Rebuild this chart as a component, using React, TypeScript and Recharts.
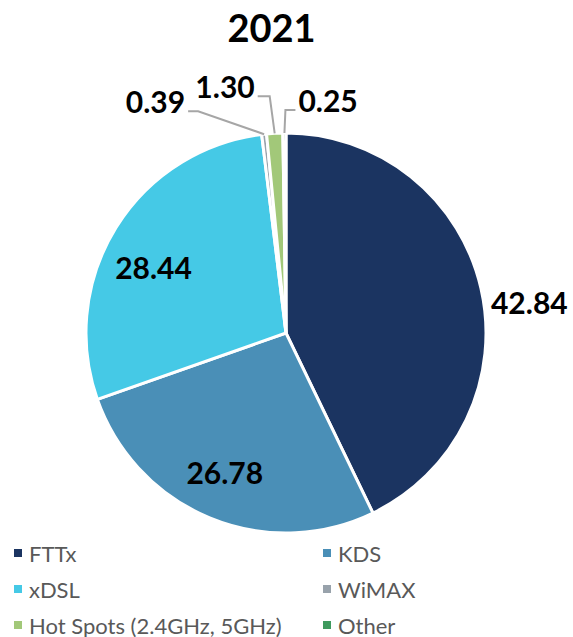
import { PieChart, Pie, Cell, Legend } from 'recharts';

const categories = ['FTTx', 'KDS', 'xDSL', 'WiMAX', 'Hot Spots (2.4GHz, 5GHz)', 'Other'];
const shares = [42.84, 26.78, 28.44, 0.39, 1.3, 0.25];
const colors = ['#1b3461', '#4a8fb7', '#45c9e6', '#98a2ab', '#a2c879', '#3f9a5e'];

const data = categories.map((name, i) => ({ name, value: shares[i] }));

const RAD = Math.PI / 180;
const labelFont = { fontFamily: 'Lato, sans-serif', fontWeight: 700, fontSize: 30, fill: '#000' };

// leader lines for the thin slices at the top: [elbow dx, rise above rim, tail dx]
const leaders: Record<number, [number, number, number]> = {
  3: [-66, 23, -10],
  4: [-5, 37, -12],
  5: [1, 23, 10],
};

// small nudges for the labels of the big slices
const nudges: Record<number, [number, number]> = {
  0: [10, 14],
  1: [-4, 0],
  2: [-5, 13],
};

const renderLabel = (props: any) => {
  const { cx, cy, midAngle, outerRadius, index, value } = props;
  const cos = Math.cos(-midAngle * RAD);
  const sin = Math.sin(-midAngle * RAD);
  const txt = Number(value).toFixed(2);

  if (leaders[index]) {
    const [edx, rise, tail] = leaders[index];
    const x0 = cx + outerRadius * cos;
    const y0 = cy + outerRadius * sin;
    const x1 = x0 + edx;
    const y1 = y0 - rise;
    const x2 = x1 + tail;
    return (
      <g key={`lbl-${index}`}>
        <polyline points={`${x0},${y0} ${x1},${y1} ${x2},${y1}`} stroke="#a6a6a6" strokeWidth={2} fill="none" />
        <text
          x={x2 + (tail < 0 ? -3 : 3)}
          y={y1 - 10}
          textAnchor={tail < 0 ? 'end' : 'start'}
          dominantBaseline="central"
          style={labelFont}
        >
          {txt}
        </text>
      </g>
    );
  }

  const [nx, ny] = nudges[index] || [0, 0];
  if (index === 0) {
    // outside label on the right
    return (
      <text
        key={`lbl-${index}`}
        x={cx + outerRadius * cos + nx}
        y={cy + outerRadius * sin + ny}
        textAnchor="start"
        dominantBaseline="central"
        style={labelFont}
      >
        {txt}
      </text>
    );
  }
  const r = outerRadius * 0.75;
  return (
    <text
      key={`lbl-${index}`}
      x={cx + r * cos + nx}
      y={cy + r * sin + ny}
      textAnchor="middle"
      dominantBaseline="central"
      style={labelFont}
    >
      {txt}
    </text>
  );
};

const renderLegend = () => (
  <div
    style={{
      display: 'grid',
      gridTemplateColumns: '309px 250px',
      rowGap: 0,
      fontFamily: 'Lato, sans-serif',
      fontSize: 22,
      color: '#595959',
      paddingLeft: 14,
    }}
  >
    {categories.map((name, i) => (
      <div key={name} style={{ display: 'flex', alignItems: 'center', height: 36 }}>
        <span style={{ width: 8, height: 8, background: colors[i], marginRight: 7, display: 'inline-block' }} />
        <span>{name}</span>
      </div>
    ))}
  </div>
);

export default function App() {
  return (
    <div style={{ position: 'absolute', left: 0, top: 0, width: 573, height: 637, background: '#fff' }}>
      <div
        style={{
          position: 'absolute',
          top: 4,
          left: 0,
          width: 543,
          textAlign: 'center',
          fontFamily: 'Lato, sans-serif',
          fontWeight: 700,
          fontSize: 38,
          color: '#000',
        }}
      >
        2021
      </div>
      <PieChart width={573} height={637} margin={{ top: 0, right: 0, bottom: 0, left: 0 }}>
        <Pie
          data={data}
          dataKey="value"
          nameKey="name"
          cx={286}
          cy={333}
          outerRadius={200}
          startAngle={90}
          endAngle={-270}
          stroke="#fff"
          strokeWidth={3}
          label={renderLabel}
          labelLine={false}
          isAnimationActive={false}
        >
          {data.map((d, i) => (
            <Cell key={d.name} fill={colors[i]} />
          ))}
        </Pie>
        <Legend
          content={renderLegend}
          wrapperStyle={{ position: 'absolute', left: 0, top: 535, width: 573 }}
        />
      </PieChart>
    </div>
  );
}
